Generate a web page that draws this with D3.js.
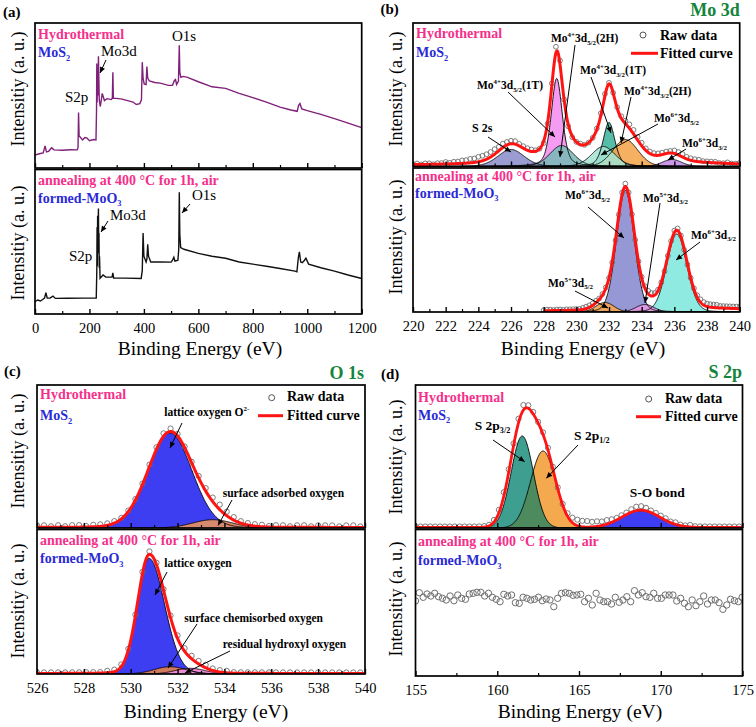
<!DOCTYPE html>
<html><head><meta charset="utf-8">
<script src="https://cdn.jsdelivr.net/npm/d3@7/dist/d3.min.js"></script>
<style>body{margin:0;background:#fff} svg text{font-family:'Liberation Serif','DejaVu Serif',serif;}</style>
</head><body>
<script>
// ================= DATA =================
// (a) survey spectra (binding energy eV, intensity a.u. 0-100)
const surveyMoS2Energy = [0,10,20,30,37,42,50,61,70,100,130,155,158,160,162,165,175,183,190,200,215,224,226,227,228,230,231,233,236,240,247,255,265,280,284,286,288,300,320,340,360,372,385,391,394,397,401,408,411,414,420,440,460,490,505,512,516,520,527,530,532,536,545,560,600,650,700,750,800,850,900,940,963,968,973,980,1000,1050,1100,1150,1200];
const surveyMoS2Counts = [9.0,9.5,10.0,10.4,15.3,11.1,11.5,13.9,12.5,12.2,12.6,12.5,14,38.2,22,21.5,19.4,21,20.8,18.8,19.6,19.4,40,72,45,62,50,77,47,42.4,51.4,46.5,47.8,47.2,48,66,48,48,47.5,46.5,45.5,43.8,44.4,47,73,62,58,57.6,70,62,60,59,58.5,57,57,60.4,61,57.6,60,84.7,66,62.5,63.2,62.5,59.5,56,54.9,51.5,48.5,45.4,42,40,39.1,43,44.4,40.8,39.6,37,34,31,27.8];
const surveyMoO3Energy = [0,10,20,28,35,40,45,55,66,75,120,180,225,227,228,229,230,231,232,233,234,235,236,237,239,245,250,260,283,286,289,330,390,394,397,400,408,411,414,417,425,460,500,505,510,514,525,528,530,532,535,547,600,650,700,750,800,850,900,955,962,967,971,976,982,990,995,1005,1050,1100,1150,1200];
const surveyMoO3Counts = [8.5,9.7,9,10,11,14.7,11,11,12.4,10.8,10.9,11,11,30,60,33,68,42,60,73,45,56,32,40,24.8,26,27,25.5,25.5,28.5,24.8,24.8,24.6,30,56,40,36,38,48.3,40,36,36,35.9,37.2,39.3,36.6,37.2,45,84.3,55,46,44.8,42,40,38.6,36,34.5,33,31.5,29.7,29.2,38.6,43,36,35.5,37.2,38.6,34.5,32,29.7,27,24.6];

// (b) Mo 3d fitted components (center eV, height a.u., FWHM eV, Lorentzian fraction)
const mo3dMoS2Peaks = [
  {name:"Mo4+ 3d5/2 (1T)", center:228.8, height:88, fwhm:0.8, eta:0.4},
  {name:"Mo4+ 3d3/2 (1T)", center:232.0, height:44, fwhm:0.85, eta:0.4},
  {name:"Mo6+ 3d5/2", center:233.0, height:27, fwhm:1.8, eta:0.1},
  {name:"Mo4+ 3d5/2 (2H)", center:229.1, height:21, fwhm:1.7, eta:0.2},
  {name:"Mo4+ 3d3/2 (2H)", center:231.65, height:20, fwhm:1.7, eta:0.2},
  {name:"S 2s", center:226.0, height:17, fwhm:1.9, eta:0.2},
  {name:"Mo6+ 3d3/2", center:235.85, height:7, fwhm:1.4, eta:0.1}
];
const mo3dMoS2Background = [{center:231.5, height:7, fwhm:10, eta:0}];
const mo3dMoS2Offset = 1.5;
const mo3dMoS2RawStart = 220, mo3dMoS2RawStep = 0.25;
const mo3dMoS2RawResidual = [0,1,0,1,1,0,1,1,2,1,2,2, 3,3,4,4,5,5,5,5, 5,4,4,3,3,3,2,2, 2,2,1,0,-2,-2,2,6, 4,0,-2,-1,0,1,0,0, 0,1,2,2,1,0,1,2, 3,4,4,3,3,2,2,2, 2,2,2,2,3,3,3,2, 2,2,2,1,1,1,1,0, 0,1,0,0,1];

const mo3dMoO3Peaks = [
  {name:"Mo6+ 3d5/2", center:233.0, height:121.5, fwhm:1.28, eta:0.1},
  {name:"Mo6+ 3d3/2", center:236.15, height:78, fwhm:1.45, eta:0.1},
  {name:"Mo5+ 3d5/2", center:231.75, height:9.5, fwhm:1.3, eta:0},
  {name:"Mo5+ 3d3/2", center:234.2, height:7.5, fwhm:1.3, eta:0}
];
const mo3dMoO3Background = [{center:237.5, height:2.5, fwhm:8, eta:0}];
const mo3dMoO3Offset = 1;
const mo3dMoO3RawStart = 228, mo3dMoO3RawStep = 0.2;
const mo3dMoO3RawResidual = [0.5,1,1,0.5,1,1,0.5,1,1,1, 1,1,1.5,2,2,2,2,1,1,1, 0,-1,-1,0,2,3,2,0,-1,0, 1,2,3,3,2,1,0,-1,0,1, 2,2,1,-1,-1,0,1,2,3,3, 3,3,3,3,2,2,2,2,2,2, 2];

// (c) O 1s
const o1sMoS2Peaks = [
  {name:"lattice oxygen O2-", center:531.68, height:95, fwhm:2.2, eta:0.05},
  {name:"surface adsorbed oxygen", center:533.5, height:8.3, fwhm:2.0, eta:0}
];
const o1sMoS2Background = [{center:533.3, height:3, fwhm:1.5, eta:0}];
const o1sMoS2Offset = 0.5;
const o1sMoS2RawStart = 526, o1sMoS2RawStep = 0.3;
const o1sMoS2RawResidual = [2,2,1,2,1,2,2,1,2, 2,2,2,1,1,1, 1,2,2,3,3,2,1,1, 2,3,4,5,4,3,2, 2,2,2,1,2,2,1,2,2,1,2,2,2,1,2,2,1];

const o1sMoO3Peaks = [
  {name:"lattice oxygen", center:530.78, height:115.7, fwhm:1.15, fwhmHigh:1.56, eta:0.05},
  {name:"surface chemisorbed oxygen", center:531.68, height:7.3, fwhm:1.6, eta:0},
  {name:"residual hydroxyl oxygen", center:532.54, height:5.7, fwhm:1.5, eta:0}
];
const o1sMoO3Background = [{center:532.3, height:3, fwhm:1.5, eta:0}];
const o1sMoO3Offset = 0.5;
const o1sMoO3RawStart = 526, o1sMoO3RawStep = 0.3;
const o1sMoO3RawResidual = [1,1,1,1,1,1,1,1,1, 1,2,2,2,1,1, 2,3,2,1,2,3,3,3, 3,3,2,2,2,1,1, 1,1,1,1,1,1,1,1,1,1,1,1,1,1,1,1,1];

// (d) S 2p
const s2pMoS2Peaks = [
  {name:"S 2p1/2", center:162.8, height:77, fwhm:1.8, eta:0},
  {name:"S 2p3/2", center:161.53, height:92, fwhm:1.6, eta:0},
  {name:"S-O bond", center:168.78, height:17.3, fwhm:2.7, eta:0}
];
const s2pMoS2Background = [{center:160.8, height:10, fwhm:1.3, eta:0}];
const s2pMoS2Offset = 0.5;
const s2pMoS2RawStart = 155, s2pMoS2RawStep = 0.3;
const s2pMoS2RawResidual = [1,1,1,1,1,1,1,1,1,1,1,1,1,1, 1,1,2,3,4,3, 2,4,5,3,2,1, 2,2,2,1,1,3, 5,6,6,6,5,5, 4,4,3,2,2,2, 3,4,4,3,2,2, 2,2,1,2,1,1,2,1,1,1,1,1,1,1,1,1,1];

const s2pMoO3RawStart = 155, s2pMoO3RawStep = 0.235;
const s2pMoO3RawCounts = [75.0,83.3,78.7,82.0,80.0,82.7,79.3,77.7,76.0,80.0,75.3,81.0,77.7,76.7,82.0,82.7,83.7,83.7,80.0,82.7,78.7,76.7,74.3,81.7,80.0,81.0,73.3,72.7,78.7,77.7,76.0,76.7,78.7,75.3,77.0,76.0,69.3,77.7,82.7,83.3,82.7,80.7,81.0,81.7,74.3,77.7,71.0,82.7,76.0,74.3,74.3,72.0,78.7,73.7,76.0,79.3,74.3,85.3,81.0,83.3,79.3,78.7,82.7,77.7,77.7,81.0,81.0,81.0,75.0,77.7,72.7,69.3,76.0,70.3,74.3,80.0,72.0,76.0,76.0,73.3,66.7,71.0,76.7,75.3,74.3,78.7];

// tick values
const surveyMajorTicks = [0,200,400,600,800,1000,1200];
const surveyMinorTicks = [100,300,500,700,900,1100];
const mo3dMajorTicks = [220,222,224,226,228,230,232,234,236,238,240];
const mo3dMinorTicks = [221,223,225,227,229,231,233,235,237,239];
const o1sMajorTicks = [526,528,530,532,534,536,538,540];
const o1sMinorTicks = [527,529,531,533,535,537,539];
const s2pMajorTicks = [155,160,165,170,175];
const s2pMinorTicks = [157.5,162.5,167.5,172.5];

// ================= STYLE =================
const PINK = "#f5308b", BLUE = "#2a2ad6", GREEN = "#15853b", RED = "#ff1414";
const SERIF = "'Liberation Serif','DejaVu Serif',serif";
const mo3dMoS2Colors = ["#f48ef0","#3fb59c","#f5a54c","#79b9b6","#a6e3d2","#8d8fcc","#c48ae6"];
const mo3dMoO3Colors = ["#8d8fd3","#86e8e0","#f2a452","#e596e3"];
const o1sMoS2Colors = ["#3d3df2","#d88a6e"];
const o1sMoO3Colors = ["#3d3df2","#d27a5c","#f08bd6"];
const s2pMoS2Colors = ["#f5a94f","#3e9f90","#3d3df2"];
const s2pOverlapColor = "#4d8b5e";

// ================= DRAW =================
const svg = d3.select("body").append("svg").attr("width",756).attr("height",727);
svg.append("rect").attr("width",756).attr("height",727).attr("fill","#fff");
const defs = svg.append("defs");
defs.append("marker").attr("id","arrow").attr("viewBox","0 0 10 10").attr("refX",10).attr("refY",5)
  .attr("markerWidth",7).attr("markerHeight",6).attr("markerUnits","userSpaceOnUse").attr("orient","auto")
  .append("path").attr("d","M0,0.5 L10,5 L0,9.5 z").attr("fill","#000");

let clipCount = 0;
function makeSub(root, box, xDomain, yDomain){
  const x = d3.scaleLinear().domain(xDomain).range([box.left, box.right]);
  const y = d3.scaleLinear().domain(yDomain).range([box.bottom, box.top]);
  const id = "clip" + (clipCount++);
  defs.append("clipPath").attr("id", id).append("rect")
    .attr("x", box.left).attr("y", box.top).attr("width", box.right - box.left).attr("height", box.bottom - box.top);
  const plot = root.append("g").attr("clip-path", `url(#${id})`);
  return {x, y, plot, box, root};
}
function frame(sub, majors, minors, labels){
  const {x, box, root} = sub;
  const gMin = root.append("g").attr("transform", `translate(0,${box.bottom})`)
    .call(d3.axisBottom(x).tickValues(minors).tickSize(-3).tickFormat(""));
  gMin.select(".domain").remove();
  gMin.selectAll("line").attr("stroke","#000").attr("stroke-width",1.2);
  const gMaj = root.append("g").attr("transform", `translate(0,${box.bottom})`)
    .call(d3.axisBottom(x).tickValues(majors).tickSize(-5).tickPadding(9).tickFormat(labels ? d3.format("d") : ""));
  gMaj.attr("font-family", null);
  gMaj.select(".domain").remove();
  gMaj.selectAll("line").attr("stroke","#000").attr("stroke-width",1.4);
  gMaj.selectAll("text").style("font-family", SERIF).attr("font-size", 14.5).attr("fill","#000");
  root.append("rect").attr("x", box.left).attr("y", box.top)
    .attr("width", box.right - box.left).attr("height", box.bottom - box.top)
    .attr("fill","none").attr("stroke","#000").attr("stroke-width",1.7);
}
function label(g, x, y, str, o = {}){
  const size = o.size || 12;
  const t = g.append("text").attr("x", x).attr("y", y)
    .style("font-family", SERIF).attr("font-size", size)
    .attr("font-weight", o.weight || "bold").attr("fill", o.color || "#000")
    .attr("text-anchor", o.anchor || "start");
  if (o.rotate) t.attr("transform", `rotate(${o.rotate},${x},${y})`);
  const parts = str.split(/(\^\{[^}]*\}|_\{[^}]*\})/).filter(s => s.length);
  let cur = 0;
  parts.forEach(p => {
    let target = 0, txt = p, fs = size;
    if (p[0] === "^") { target = -size * 0.42; txt = p.slice(2, -1); fs = size * 0.6; }
    else if (p[0] === "_") { target = size * 0.25; txt = p.slice(2, -1); fs = size * 0.6; }
    t.append("tspan").attr("dy", target - cur).attr("font-size", fs).text(txt);
    cur = target;
  });
  return t;
}
function arrow(g, x1, y1, x2, y2){
  g.append("line").attr("x1",x1).attr("y1",y1).attr("x2",x2).attr("y2",y2)
    .attr("stroke","#000").attr("stroke-width",1).attr("marker-end","url(#arrow)");
}
function yTitle(g, x, yc){
  label(g, x, yc, "Intensitiy (a. u.)", {size:18, weight:"normal", anchor:"middle", rotate:-90});
}
function xTitle(g, xc, y){
  label(g, xc, y, "Binding Energy (eV)", {size:19.5, weight:"normal", anchor:"middle"});
}
function pv(e, p){
  const w = (e > p.center && p.fwhmHigh) ? p.fwhmHigh : p.fwhm;
  const u = (e - p.center) / w;
  return p.height * ((1 - p.eta) * Math.exp(-4 * Math.LN2 * u * u) + p.eta / (1 + 4 * u * u));
}
function drawFit(sub, peaks, colors, bg, offset, eRange, raw, o = {}){
  const model = e => d3.sum(peaks, p => pv(e, p)) + d3.sum(bg, p => pv(e, p)) + offset;
  const grid = d3.range(eRange[0], eRange[1] + 1e-9, 0.02);
  const {x, y, plot} = sub;
  peaks.forEach((p, i) => {
    plot.append("path").datum(grid)
      .attr("d", d3.area().x(e => x(e)).y0(y(0)).y1(e => y(pv(e, p))))
      .attr("fill", colors[i]).attr("fill-opacity", o.opacity || 1);
  });
  if (o.overlap) {
    const [a, b] = o.overlap;
    plot.append("path").datum(grid)
      .attr("d", d3.area().x(e => x(e)).y0(y(0)).y1(e => y(Math.min(pv(e, peaks[a]), pv(e, peaks[b])))))
      .attr("fill", o.overlapColor);
  }
  peaks.forEach(p => {
    plot.append("path").datum(grid)
      .attr("d", d3.line().x(e => x(e)).y(e => y(pv(e, p))))
      .attr("fill","none").attr("stroke","#000").attr("stroke-width",0.9);
  });
  const pts = raw.resid.map((r, i) => { const e = raw.start + i * raw.step; return [e, model(e) + r]; });
  plot.append("g").selectAll("circle").data(pts).join("circle")
    .attr("cx", d => x(d[0])).attr("cy", d => y(d[1])).attr("r", o.r || 2.5)
    .attr("fill","none").attr("stroke","#6e6e6e").attr("stroke-width",0.9);
  plot.append("path").datum(grid)
    .attr("d", d3.line().x(e => x(e)).y(e => y(model(e))))
    .attr("fill","none").attr("stroke", RED).attr("stroke-width", o.lw || 3);
}
function legend(g, cx, cy, lx1, lx2, ly, tx, ty1, ty2){
  g.append("circle").attr("cx",cx).attr("cy",cy).attr("r",3).attr("fill","none").attr("stroke","#555").attr("stroke-width",1);
  label(g, tx, ty1, "Raw data", {size:14});
  g.append("line").attr("x1",lx1).attr("x2",lx2).attr("y1",ly).attr("y2",ly).attr("stroke",RED).attr("stroke-width",3);
  label(g, tx, ty2, "Fitted curve", {size:14});
}

// ---------- Panel (a) ----------
defs.append("clipPath").attr("id","clipA").append("rect").attr("x",0).attr("y",0).attr("width",377).attr("height",370);
const gA = svg.append("g").attr("clip-path","url(#clipA)");
const aTop = makeSub(gA, {left:35, right:361.7, top:23, bottom:168}, [0,1200], [0,100]);
const aBot = makeSub(gA, {left:35, right:361.7, top:169.5, bottom:314}, [0,1200], [0,100]);
aTop.plot.append("path").datum(d3.zip(surveyMoS2Energy, surveyMoS2Counts))
  .attr("d", d3.line().x(d => aTop.x(d[0])).y(d => aTop.y(d[1])))
  .attr("fill","none").attr("stroke","#80207a").attr("stroke-width",1.4);
aBot.plot.append("path").datum(d3.zip(surveyMoO3Energy, surveyMoO3Counts))
  .attr("d", d3.line().x(d => aBot.x(d[0])).y(d => aBot.y(d[1])))
  .attr("fill","none").attr("stroke","#111").attr("stroke-width",1.4);
frame(aTop, surveyMajorTicks, surveyMinorTicks, false);
frame(aBot, surveyMajorTicks, surveyMinorTicks, true);
label(gA, 3, 17, "(a)", {size:15});
label(gA, 38, 39, "Hydrothermal", {size:14, color:PINK});
label(gA, 38, 57, "MoS_{2}", {size:14, color:BLUE});
label(gA, 172, 41, "O1s", {size:15, weight:"normal"});
label(gA, 101, 56, "Mo3d", {size:15, weight:"normal"});
label(gA, 65, 102, "S2p", {size:15, weight:"normal"});
arrow(gA, 106, 60, 100, 73);
label(gA, 38, 185, "annealing at 400 °C for 1h, air", {size:14, color:PINK});
label(gA, 38, 202.5, "formed-MoO_{3}", {size:14, color:BLUE});
label(gA, 192, 199.5, "O1s", {size:15, weight:"normal"});
arrow(gA, 190, 204, 182, 213);
label(gA, 110, 219.5, "Mo3d", {size:15, weight:"normal"});
arrow(gA, 108, 221, 101, 232);
label(gA, 69, 260.5, "S2p", {size:15, weight:"normal"});
yTitle(gA, 24, 89);
yTitle(gA, 24, 243);
xTitle(gA, 200, 355);

// ---------- Panel (b) ----------
const gB = svg.append("g");
const bTop = makeSub(gB, {left:413, right:739.7, top:23, bottom:166.5}, [220,240], [0,143.5]);
const bBot = makeSub(gB, {left:413, right:739.7, top:168, bottom:312}, [220,240], [0,144]);
drawFit(bTop, mo3dMoS2Peaks, mo3dMoS2Colors, mo3dMoS2Background, mo3dMoS2Offset, [220,240],
  {start:mo3dMoS2RawStart, step:mo3dMoS2RawStep, resid:mo3dMoS2RawResidual}, {opacity:0.88, r:2.4});
drawFit(bBot, mo3dMoO3Peaks, mo3dMoO3Colors, mo3dMoO3Background, mo3dMoO3Offset, [228,240],
  {start:mo3dMoO3RawStart, step:mo3dMoO3RawStep, resid:mo3dMoO3RawResidual}, {opacity:0.92, r:2.4});
frame(bTop, mo3dMajorTicks, mo3dMinorTicks, false);
frame(bBot, mo3dMajorTicks, mo3dMinorTicks, true);
label(gB, 380.5, 13.5, "(b)", {size:15});
label(gB, 739.7, 16, "Mo 3d", {size:18, color:GREEN, anchor:"end"});
label(gB, 416, 38, "Hydrothermal", {size:14, color:PINK});
label(gB, 416, 57, "MoS_{2}", {size:14, color:BLUE});
legend(gB, 643, 35, 631, 658, 53.3, 660, 39.5, 57.5);
const LS = 11.5;
label(gB, 551, 42, "Mo^{4+}3d_{5/2}(2H)", {size:LS});
label(gB, 477, 89, "Mo^{4+}3d_{5/2}(1T)", {size:LS});
label(gB, 472, 131.7, "S 2s", {size:12});
label(gB, 580, 74, "Mo^{4+}3d_{3/2}(1T)", {size:LS});
label(gB, 624, 95, "Mo^{4+}3d_{3/2}(2H)", {size:LS});
label(gB, 654, 121.7, "Mo^{6+}3d_{5/2}", {size:LS});
label(gB, 682, 146.7, "Mo^{6+}3d_{3/2}", {size:LS});
arrow(gB, 575, 45, 560, 157);
arrow(gB, 508, 92, 555, 137);
arrow(gB, 488, 137, 511, 152);
arrow(gB, 591, 77, 611, 133);
arrow(gB, 631, 97, 621, 143);
arrow(gB, 658, 124, 601, 155);
arrow(gB, 686, 149, 668, 160);
label(gB, 415, 181, "annealing at 400 °C for 1h, air", {size:14, color:PINK});
label(gB, 415, 197.7, "formed-MoO_{3}", {size:14, color:BLUE});
label(gB, 565, 199, "Mo^{6+}3d_{5/2}", {size:LS});
arrow(gB, 588, 207, 624, 238);
label(gB, 643, 201.5, "Mo^{5+}3d_{3/2}", {size:LS});
arrow(gB, 660, 203, 645, 303);
label(gB, 691, 238.5, "Mo^{6+}3d_{3/2}", {size:LS});
arrow(gB, 700, 242, 676, 260);
label(gB, 548, 286.5, "Mo^{5+}3d_{5/2}", {size:LS});
arrow(gB, 575, 291, 608, 308);
yTitle(gB, 402, 89);
yTitle(gB, 402, 237);
xTitle(gB, 583, 355);

// ---------- Panel (c) ----------
const gC = svg.append("g");
const cTop = makeSub(gC, {left:37, right:365, top:385, bottom:528}, [526,540], [0,143]);
const cBot = makeSub(gC, {left:37, right:365, top:529.5, bottom:674}, [526,540], [0,144.5]);
drawFit(cTop, o1sMoS2Peaks, o1sMoS2Colors, o1sMoS2Background, o1sMoS2Offset, [526,540],
  {start:o1sMoS2RawStart, step:o1sMoS2RawStep, resid:o1sMoS2RawResidual}, {r:2.6});
drawFit(cBot, o1sMoO3Peaks, o1sMoO3Colors, o1sMoO3Background, o1sMoO3Offset, [526,540],
  {start:o1sMoO3RawStart, step:o1sMoO3RawStep, resid:o1sMoO3RawResidual}, {r:2.6});
frame(cTop, o1sMajorTicks, o1sMinorTicks, false);
frame(cBot, o1sMajorTicks, o1sMinorTicks, true);
label(gC, 4, 376, "(c)", {size:15});
label(gC, 364, 379, "O 1s", {size:18, color:GREEN, anchor:"end"});
label(gC, 40, 399.3, "Hydrothermal", {size:14, color:PINK});
label(gC, 40, 420, "MoS_{2}", {size:14, color:BLUE});
legend(gC, 271.7, 397.7, 258, 283, 415.7, 287, 401, 419.5);
label(gC, 164.3, 416, "lattice oxygen O^{2-}", {size:11.5});
arrow(gC, 182, 423, 170, 448);
label(gC, 222.7, 496.7, "surface adsorbed oxygen", {size:11.5});
arrow(gC, 232, 500, 218, 525.5);
label(gC, 40, 545, "annealing at 400 °C for 1h, air", {size:14, color:PINK});
label(gC, 40, 563.3, "formed-MoO_{3}", {size:14, color:BLUE});
label(gC, 164.3, 567.3, "lattice oxygen", {size:11.5});
arrow(gC, 167, 572, 155, 595);
label(gC, 184.3, 621.7, "surface chemisorbed oxygen", {size:11.5});
arrow(gC, 197, 624, 168, 668);
label(gC, 222.7, 648.3, "residual hydroxyl oxygen", {size:11.5});
arrow(gC, 230, 651, 185, 673);
yTitle(gC, 24, 451);
yTitle(gC, 24, 601);
xTitle(gC, 206, 718);

// ---------- Panel (d) ----------
const gD = svg.append("g");
const dTop = makeSub(gD, {left:415.5, right:742.5, top:385, bottom:528}, [155,175], [0,143]);
const dBot = makeSub(gD, {left:415.5, right:742.5, top:529.5, bottom:676}, [155,175], [0,146.5]);
drawFit(dTop, s2pMoS2Peaks, s2pMoS2Colors, s2pMoS2Background, s2pMoS2Offset, [155,175],
  {start:s2pMoS2RawStart, step:s2pMoS2RawStep, resid:s2pMoS2RawResidual},
  {overlap:[0,1], overlapColor:s2pOverlapColor, r:2.6, lw:2.8});
dBot.plot.append("g").selectAll("circle").data(s2pMoO3RawCounts).join("circle")
  .attr("cx", (d, i) => dBot.x(s2pMoO3RawStart + i * s2pMoO3RawStep)).attr("cy", d => dBot.y(d))
  .attr("r", 3.2).attr("fill","none").attr("stroke","#6e6e6e").attr("stroke-width",1);
frame(dTop, s2pMajorTicks, s2pMinorTicks, false);
frame(dBot, s2pMajorTicks, s2pMinorTicks, true);
label(gD, 381, 379, "(d)", {size:15});
label(gD, 742, 377.5, "S 2p", {size:18, color:GREEN, anchor:"end"});
label(gD, 418, 402.3, "Hydrothermal", {size:14, color:PINK});
label(gD, 418, 419.5, "MoS_{2}", {size:14, color:BLUE});
legend(gD, 648.7, 399, 636, 661, 416.7, 665, 402.5, 420.5);
label(gD, 474.7, 430, "S 2p_{3/2}", {size:13.5});
arrow(gD, 493, 440, 524.7, 461.7);
label(gD, 574, 440, "S 2p_{1/2}", {size:13.5});
arrow(gD, 578, 445, 546.3, 478.3);
label(gD, 629.7, 497.3, "S-O bond", {size:13.5});
label(gD, 418, 546, "annealing at 400 °C for 1h, air", {size:14, color:PINK});
label(gD, 418, 565, "formed-MoO_{3}", {size:14, color:BLUE});
yTitle(gD, 402, 457);
yTitle(gD, 402, 599);
xTitle(gD, 580, 718);
</script>
</body></html>
